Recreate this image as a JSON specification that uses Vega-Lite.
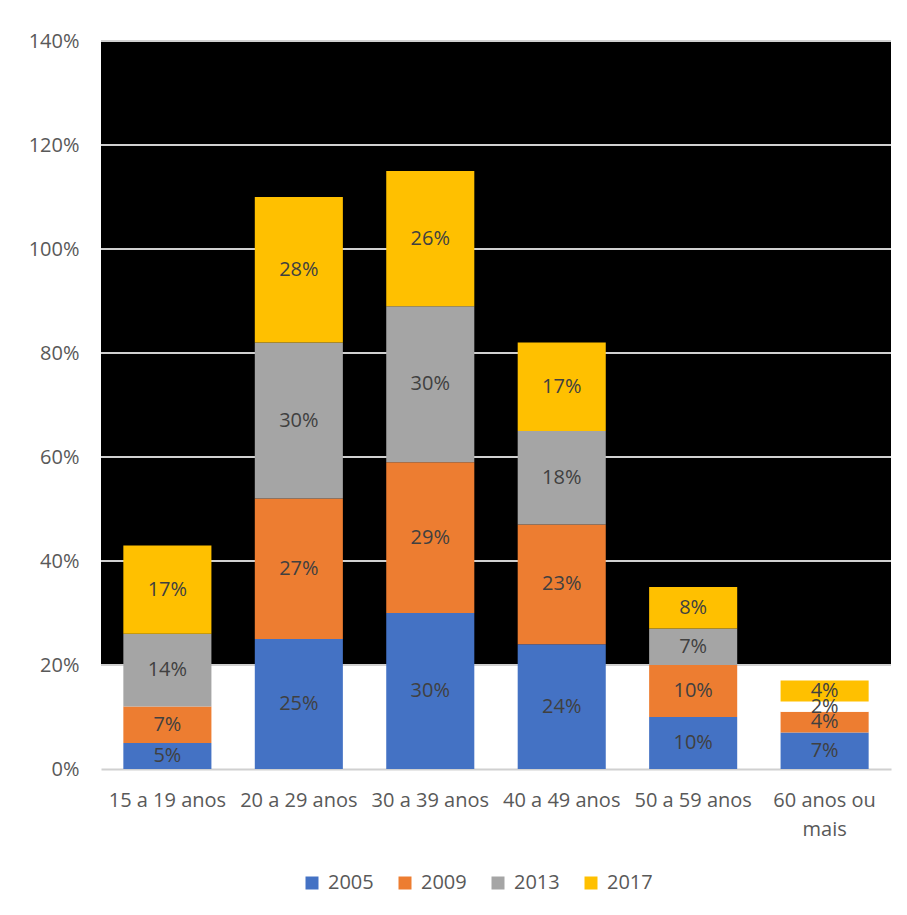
{
  "$schema": "https://vega.github.io/schema/vega-lite/v6.json",
  "width": 790,
  "height": 728,
  "autosize": {"type": "none"},
  "padding": {"left": 101, "top": 41, "right": 16, "bottom": 146},
  "background": "white",
  "config": {
    "view": {"stroke": null},
    "font": "Open Sans"
  },
  "datasets": {
    "faixas": [
      {"faixa": "15 a 19 anos", "ano": "2005", "v": 0.05},
      {"faixa": "15 a 19 anos", "ano": "2009", "v": 0.07},
      {"faixa": "15 a 19 anos", "ano": "2013", "v": 0.14},
      {"faixa": "15 a 19 anos", "ano": "2017", "v": 0.17},
      {"faixa": "20 a 29 anos", "ano": "2005", "v": 0.25},
      {"faixa": "20 a 29 anos", "ano": "2009", "v": 0.27},
      {"faixa": "20 a 29 anos", "ano": "2013", "v": 0.30},
      {"faixa": "20 a 29 anos", "ano": "2017", "v": 0.28},
      {"faixa": "30 a 39 anos", "ano": "2005", "v": 0.30},
      {"faixa": "30 a 39 anos", "ano": "2009", "v": 0.29},
      {"faixa": "30 a 39 anos", "ano": "2013", "v": 0.30},
      {"faixa": "30 a 39 anos", "ano": "2017", "v": 0.26},
      {"faixa": "40 a 49 anos", "ano": "2005", "v": 0.24},
      {"faixa": "40 a 49 anos", "ano": "2009", "v": 0.23},
      {"faixa": "40 a 49 anos", "ano": "2013", "v": 0.18},
      {"faixa": "40 a 49 anos", "ano": "2017", "v": 0.17},
      {"faixa": "50 a 59 anos", "ano": "2005", "v": 0.10},
      {"faixa": "50 a 59 anos", "ano": "2009", "v": 0.10},
      {"faixa": "50 a 59 anos", "ano": "2013", "v": 0.07},
      {"faixa": "50 a 59 anos", "ano": "2017", "v": 0.08},
      {"faixa": "60 anos ou mais", "ano": "2005", "v": 0.07},
      {"faixa": "60 anos ou mais", "ano": "2009", "v": 0.04},
      {"faixa": "60 anos ou mais", "ano": "2013", "v": 0.02},
      {"faixa": "60 anos ou mais", "ano": "2017", "v": 0.04}
    ],
    "grade": [
      {"g": 0.2}, {"g": 0.4}, {"g": 0.6}, {"g": 0.8},
      {"g": 1.0}, {"g": 1.2}, {"g": 1.4}
    ],
    "faixa_escura": [
      {"de": 0.2, "ate": 1.4}
    ]
  },
  "encoding": {
    "y": {
      "type": "quantitative",
      "scale": {"domain": [0, 1.4], "nice": false},
      "axis": {
        "title": null,
        "values": [0, 0.2, 0.4, 0.6, 0.8, 1.0, 1.2, 1.4],
        "format": ".0%",
        "grid": false,
        "domain": false,
        "ticks": false,
        "labelFontSize": 20,
        "labelColor": "#595959",
        "labelPadding": 22
      }
    }
  },
  "layer": [
    {
      "data": {"name": "faixa_escura"},
      "mark": {"type": "rect", "color": "black"},
      "encoding": {
        "y": {"field": "de", "type": "quantitative"},
        "y2": {"field": "ate"}
      }
    },
    {
      "data": {"name": "grade"},
      "mark": {"type": "rule", "color": "#d0d0d0", "strokeWidth": 2},
      "encoding": {
        "y": {"field": "g", "type": "quantitative"}
      }
    },
    {
      "data": {"name": "faixas"},
      "layer": [
        {
          "mark": {"type": "bar"},
          "encoding": {
            "x": {
              "field": "faixa",
              "type": "nominal",
              "sort": null,
              "scale": {"paddingInner": 0.33, "paddingOuter": 0.17},
              "axis": {
                "title": null,
                "labelAngle": 0,
                "ticks": false,
                "domainColor": "#d0d0d0",
                "domainWidth": 2,
                "labelFontSize": 20,
                "labelColor": "#595959",
                "labelPadding": 21,
                "labelLineHeight": 29,
                "labelExpr": "datum.value == '60 anos ou mais' ? ['60 anos ou', 'mais'] : datum.value"
              }
            },
            "y": {"field": "v", "type": "quantitative", "stack": "zero"},
            "order": {"field": "ano", "sort": "ascending"},
            "color": {
              "condition": {
                "test": "datum.faixa == '60 anos ou mais' && datum.ano == '2013'",
                "value": "white"
              },
              "field": "ano",
              "type": "nominal",
              "scale": {
                "domain": ["2005", "2009", "2013", "2017"],
                "range": ["#4472C4", "#ED7D31", "#A5A5A5", "#FFC000"]
              },
              "legend": {
                "title": null,
                "orient": "none",
                "direction": "horizontal",
                "legendX": 201,
                "legendY": 832,
                "symbolType": "square",
                "symbolSize": 169,
                "symbolStrokeWidth": 0,
                "labelFontSize": 20,
                "labelColor": "#595959",
                "labelOffset": 6,
                "columnPadding": 21
              }
            }
          }
        },
        {
          "mark": {"type": "text", "fontSize": 20, "color": "#404040", "baseline": "middle"},
          "encoding": {
            "x": {"field": "faixa", "type": "nominal", "sort": null},
            "y": {"field": "v", "type": "quantitative", "stack": "zero", "bandPosition": 0.5},
            "detail": {"field": "ano"},
            "order": {"field": "ano", "sort": "ascending"},
            "text": {"field": "v", "type": "quantitative", "format": ".0%"}
          }
        }
      ]
    }
  ]
}
